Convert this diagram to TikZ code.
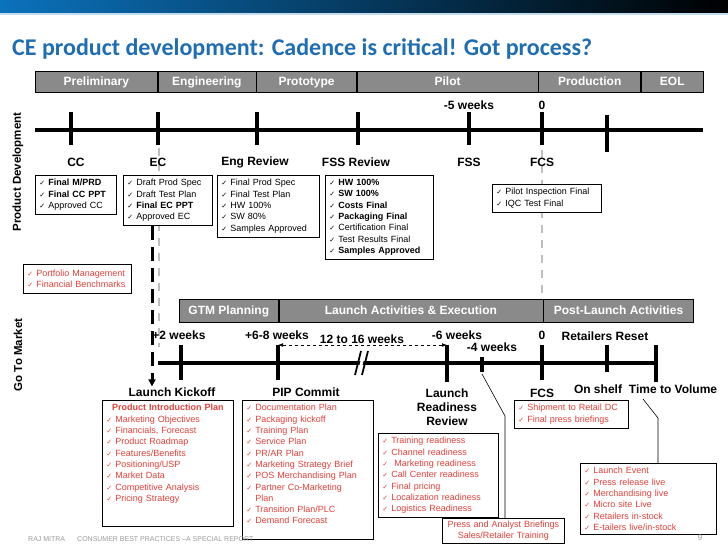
\documentclass[tikz,border=0pt]{standalone}
\usepackage{fontspec}
\setmainfont{Liberation Sans}
\newfontfamily\titlefont{Carlito}
\newfontfamily\symfont{DejaVu Sans}
\usetikzlibrary{arrows.meta,positioning}
\definecolor{titleblue}{HTML}{1F6EB4}
\definecolor{headblue}{HTML}{0B72BC}
\definecolor{headnavy}{HTML}{0A3E6E}
\definecolor{barfill}{HTML}{8A8A8A}
\definecolor{listred}{HTML}{E0413A}
\definecolor{guidegray}{HTML}{BEBEBE}
\definecolor{footgray}{HTML}{9A9A9A}
\newcommand{\chk}{{\symfont\fontsize{7}{7}\selectfont ✓}\hspace{3pt}}

\begin{document}
\begin{tikzpicture}[x=1pt, y=-1pt,
  phase/.style={draw=black, line width=0.6pt, fill=barfill, text=white,
                font=\bfseries\fontsize{12}{14}\selectfont, inner sep=0pt, minimum height=21pt,
                text height=8.8pt, text depth=2.4pt},
  gtmphase/.style={phase, minimum height=23pt},
  mile/.style={font=\bfseries\fontsize{12}{14}\selectfont, inner sep=1pt},
  weeks/.style={font=\bfseries\fontsize{12}{14}\selectfont, inner sep=1pt},
  timeline/.style={line width=4pt},
  tickmark/.style={line width=3.5pt},
  listbox/.style={draw=black, line width=0.8pt, fill=white, anchor=north west, align=left,
                  inner xsep=4pt, inner ysep=4pt, font=\fontsize{9}{11.3}\selectfont},
  redbox/.style={listbox, text=listred},
  guide/.style={draw=guidegray, line width=2.5pt, dash pattern=on 8pt off 7pt},
  kickoff/.style={line width=3pt, dash pattern=on 14pt off 7pt, -{Triangle[length=7pt,width=7pt]}},
  span/.style={dashed, line width=0.7pt, {Latex[length=5pt]}-{Latex[length=5pt]}},
  callout/.style={line width=0.6pt},
  footer/.style={text=footgray, font=\fontsize{7}{8}\selectfont, inner sep=0pt}
]
  \useasboundingbox (0,0) rectangle (728,546);

  % header band and title
  \shade[left color=headblue, middle color=headnavy, right color=black] (0,0) rectangle (728,13);
  \fill[headblue!25] (0,13) rectangle (728,14.5);
  \node[anchor=base west, inner sep=0pt, text=titleblue,
        font=\titlefont\bfseries\fontsize{24}{28}\selectfont] (title) at (12,55)
        {CE product development: Cadence is critical! Got process?};

  % phases
  \node[phase, minimum width=122pt, anchor=north west] (prelim) at (35,71) {Preliminary};
  \node[phase, minimum width=98pt, right=0pt of prelim] (engph) {Engineering};
  \node[phase, minimum width=100pt, right=0pt of engph] (proto) {Prototype};
  \node[phase, minimum width=181pt, right=0pt of proto] (pilot) {Pilot};
  \node[phase, minimum width=102pt, right=0pt of pilot] (prod) {Production};
  \node[phase, minimum width=62pt, right=0pt of prod] (eol) {EOL};

  % grey guides
  \draw[guide] (159,148) -- (159,347);
  \draw[guide] (542,150) -- (542,299);

  % product development timeline
  \node[rotate=90, font=\bfseries\fontsize{11.5}{13}\selectfont] (pdLbl) at (18,172) {Product Development};
  \draw[timeline] (35,130) -- (703,130);
  \foreach \x in {71,158,257,358,469,542}
    \draw[tickmark] (\x,112) -- (\x,145);
  \draw[tickmark] (607,115) -- (607,152);

  \node[weeks] (m5wk) at (469,105) {-5 weeks};
  \node[weeks] (zeroTop) at (542,105) {0};
  \node[mile] (ccLbl) at (76,162) {CC};
  \node[mile] (ecLbl) at (158,162) {EC};
  \node[mile] (engLbl) at (255,162) {Eng Review};
  \node[mile] (fssrLbl) at (356,162) {FSS Review};
  \node[mile] (fssLbl) at (469,162) {FSS};
  \node[mile] (fcsTopLbl) at (542,162) {FCS};

  \node[listbox, text width=73pt] (ccbox) at (35,175)
    {\chk\textbf{Final M/PRD}\\ \chk\textbf{Final CC PPT}\\ \chk Approved CC};
  \node[listbox, text width=81pt] (ecbox) at (123,175)
    {\chk Draft Prod Spec\\ \chk Draft Test Plan\\ \chk\textbf{Final EC PPT}\\ \chk Approved EC};
  \node[listbox, text width=94pt] (engbox) at (217,175)
    {\chk Final Prod Spec\\ \chk Final Test Plan\\ \chk HW 100\%\\ \chk SW 80\%\\ \chk Samples Approved};
  \node[listbox, text width=100pt] (fssrbox) at (325,175)
    {\chk\textbf{HW 100\%}\\ \chk\textbf{SW 100\%}\\ \chk\textbf{Costs Final}\\ \chk\textbf{Packaging Final}\\
     \chk Certification Final\\ \chk Test Results Final\\ \chk\textbf{Samples Approved}};
  \node[listbox, text width=101pt] (fcsbox) at (492,184)
    {\chk Pilot Inspection Final\\ \chk IQC Test Final};
  \node[redbox, text width=100pt, inner ysep=5.5pt] (portbox) at (23,264)
    {\chk Portfolio Management\\ \chk Financial Benchmarks};

  % go to market
  \node[rotate=90, font=\bfseries\fontsize{11.5}{13}\selectfont] (gtmLbl) at (18,355) {Go To Market};
  \node[gtmphase, minimum width=99pt, anchor=north west] (gtmplan) at (179,299) {GTM Planning};
  \node[gtmphase, minimum width=264pt, right=0pt of gtmplan] (launchexec) {Launch Activities \& Execution};
  \node[gtmphase, minimum width=150pt, right=0pt of launchexec] (postlaunch) {Post-Launch Activities};

  \draw[timeline] (158,363) -- (656,363);
  \foreach \x/\top/\bot in {181/345/380, 278/345/380, 447/345/382, 482/357/372, 542/345/380, 607/345/372, 656/345/382}
    \draw[tickmark] (\x,\top) -- (\x,\bot);
  \fill[white] (357,375) -- (363,351) -- (366,351) -- (360,375) -- cycle;
  \draw[line width=1.8pt] (355,375) -- (361,351) (362,375) -- (368,351);

  \node[weeks] (p2wk) at (179,335) {+2 weeks};
  \node[weeks] (p68wk) at (277,335) {+6-8 weeks};
  \node[weeks] (spanLbl) at (362,339) {12 to 16 weeks};
  \node[weeks] (m6wk) at (457,335) {-6 weeks};
  \node[weeks] (m4wk) at (492,347) {-4 weeks};
  \node[weeks] (zeroLow) at (542,335) {0};
  \node[weeks] (resetLbl) at (605,336) {Retailers Reset};

  \coordinate (pipTop) at (278,345);
  \coordinate (lrrTop) at (447,345);
  \draw[span] (pipTop) -- (lrrTop);

  \node[mile] (kickLbl) at (172,392) {Launch Kickoff};
  \node[mile] (pipLbl) at (306,392) {PIP Commit};
  \node[mile, align=center] (lrrLbl) at (447,407) {Launch\\Readiness\\Review};
  \node[mile] (fcsLbl) at (542,393) {FCS};
  \node[mile] (shelfLbl) at (598,389) {On shelf};
  \node[mile] (ttvLbl) at (673,389) {Time to Volume};

  \coordinate (kickx) at (152,0);
  \draw[kickoff] (ecbox.south -| kickx) -- (kickLbl.north -| kickx);

  \node[redbox, text width=123pt] (pipbox) at (102,400)
    {\makebox[\linewidth][c]{\bfseries Product Introduction Plan}\\
     \chk Marketing Objectives\\ \chk Financials, Forecast\\ \chk Product Roadmap\\
     \chk Features/Benefits\\ \chk Positioning/USP\\ \chk Market Data\\
     \chk Competitive Analysis\\ \chk Pricing Strategy\par\rule{0pt}{18pt}};
  \node[redbox, text width=123pt] (commitbox) at (242,400)
    {\chk Documentation Plan\\ \chk Packaging kickoff\\ \chk Training Plan\\ \chk Service Plan\\
     \chk PR/AR Plan\\ \chk Marketing Strategy Brief\\ \chk POS Merchandising Plan\\
     \chk Partner Co-Marketing\\ \phantom{\chk}Plan\\ \chk Transition Plan/PLC\\
     \chk Demand Forecast\par\rule{0pt}{9pt}};
  \node[redbox, text width=112pt] (lrrbox) at (378,433)
    {\chk Training readiness\\ \chk Channel readiness\\ \chk\ Marketing readiness\\
     \chk Call Center readiness\\ \chk Final pricing\\ \chk Localization readiness\\
     \chk Logistics Readiness};
  \node[redbox, text width=106pt] (shipbox) at (514,400)
    {\chk Shipment to Retail DC\\ \chk Final press briefings};
  \node[redbox, text width=128pt] (retailbox) at (580,463)
    {\chk Launch Event\\ \chk Press release live\\ \chk Merchandising live\\ \chk Micro site Live\\
     \chk Retailers in-stock\\ \chk E-tailers live/in-stock};
  \node[redbox, align=center, text width=117pt, inner xsep=2.5pt, inner ysep=2.5pt] (pressbox) at (442,518)
    {Press and Analyst Briefings\\ Sales/Retailer Training};

  % callouts
  \coordinate (m4foot) at (482,374);
  \coordinate (m4bend) at (505,416);
  \draw[callout] (m4foot) -- (m4bend) -- (pressbox.north -| m4bend);
  \coordinate (ttvfoot) at (643,399);
  \coordinate (ttvbend) at (658,418);
  \draw[callout] (ttvfoot) -- (ttvbend) -- (retailbox.north -| ttvbend);

  % footer
  \node[footer, anchor=west] (author) at (28,539) {RAJ MITRA};
  \node[footer, anchor=west] (report) at (77,539) {CONSUMER BEST PRACTICES –A SPECIAL REPORT};
  \node[footer, font=\fontsize{8}{9}\selectfont] (pageno) at (700,538) {9};
\end{tikzpicture}
\end{document}
